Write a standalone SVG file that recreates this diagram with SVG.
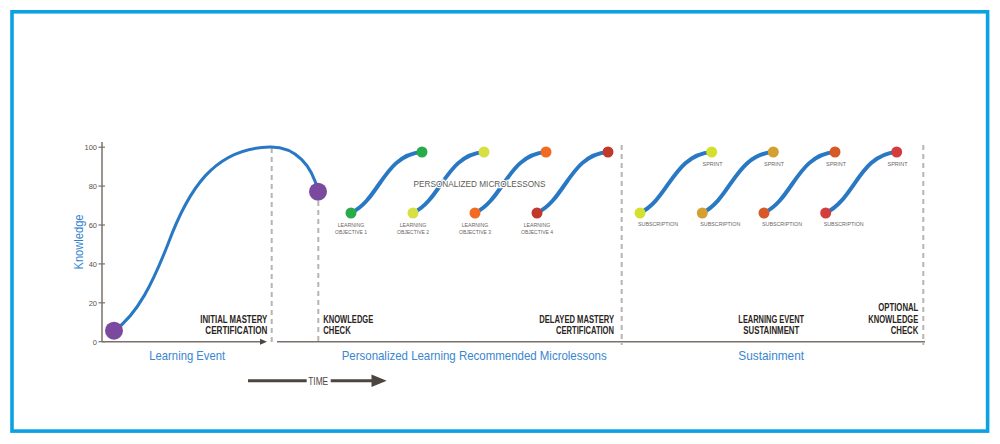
<svg xmlns="http://www.w3.org/2000/svg" width="1000" height="444" viewBox="0 0 1000 444">
<defs>
<style>
.t{font-family:"Liberation Sans Narrow","Liberation Sans",Arial,sans-serif}
.tick{font-size:7.5px;fill:#5c534d;text-anchor:end}
.b{font-size:10px;font-weight:bold;fill:#2a2522}
.sec{font-size:13px;fill:#3a86d0}
.sm{font-size:6px;fill:#6a6460}
.dash{stroke:#b8b4b0;stroke-width:2;stroke-dasharray:5 4;fill:none}
.ax{stroke:#7a706a;stroke-width:1.5;fill:none}
.lc{stroke:#2878c4;stroke-width:4;fill:none;stroke-linecap:round}
</style>
</defs>
<rect x="0" y="0" width="1000" height="444" fill="#ffffff"/>
<rect id="frame" x="12" y="11.8" width="975.6" height="419.3" fill="none" stroke="#0aa2e2" stroke-width="3.6"/>

<g id="axes">
<line class="ax" x1="102" y1="142" x2="102" y2="342"/>
<g stroke="#7a706a" stroke-width="1.2">
<line x1="98.5" y1="147.2" x2="105" y2="147.2"/>
<line x1="98.5" y1="186.1" x2="105" y2="186.1"/>
<line x1="98.5" y1="225" x2="105" y2="225"/>
<line x1="98.5" y1="263.9" x2="105" y2="263.9"/>
<line x1="98.5" y1="302.8" x2="105" y2="302.8"/>
<line x1="98.5" y1="341.7" x2="105" y2="341.7"/>
</g>
<g class="t tick">
<text x="97" y="150">100</text>
<text x="97" y="189">80</text>
<text x="97" y="228">60</text>
<text x="97" y="267">40</text>
<text x="97" y="306">20</text>
<text x="97" y="344.5">0</text>
</g>
<text class="t" x="0" y="0" transform="translate(83,242) rotate(-90)" text-anchor="middle" font-size="12" fill="#2f7fd0" textLength="55" lengthAdjust="spacingAndGlyphs">Knowledge</text>
<line class="ax" x1="102" y1="341.7" x2="262" y2="341.7"/>
<path d="M260,338.7 L267,341.7 L260,344.7 z" fill="#4d4540"/>
<line class="ax" x1="277" y1="341.7" x2="925" y2="341.7"/>
</g>

<g id="dividers">
<line class="dash" x1="271.7" y1="148" x2="271.7" y2="345"/>
<line class="dash" x1="318.3" y1="201" x2="318.3" y2="345"/>
<line class="dash" x1="621.7" y1="145" x2="621.7" y2="345"/>
<line class="dash" x1="923.3" y1="145" x2="923.3" y2="345"/>
</g>

<g id="connectors">
<path d="M114,331 C138,314 153,282 168,244 C188,190 214,148 270,147 C296,146.5 312,166 318,191" fill="none" stroke="#2878c4" stroke-width="3"/>
<path class="lc" d="M351,213 C380,199 384,155 422,152"/>
<path class="lc" d="M413,213 C442,199 446,155 484,152"/>
<path class="lc" d="M475,213 C504,199 508,155 546,152"/>
<path class="lc" d="M537,213 C566,199 570,155 608,152"/>
<path class="lc" d="M640,213 C669,199 673,155 711.7,152"/>
<path class="lc" d="M702.3,213 C731,199 735,155 773.3,152"/>
<path class="lc" d="M764,213 C793,199 797,155 835,152"/>
<path class="lc" d="M825.7,213 C855,199 859,155 896.7,152"/>
</g>

<g id="node-start"><circle cx="114" cy="330.7" r="9" fill="#7b4a9e"/></g>
<g id="node-knowledge-check"><circle cx="318" cy="191.7" r="9" fill="#7b4a9e"/></g>

<g id="node-objective-1">
<circle cx="351" cy="213" r="5.5" fill="#2aab4a"/>
<circle cx="422" cy="152" r="5.5" fill="#2aab4a"/>
<text class="t sm" x="351" y="227" text-anchor="middle" textLength="26.6" lengthAdjust="spacingAndGlyphs">LEARNING</text>
<text class="t sm" x="351" y="234.3" text-anchor="middle" textLength="32" lengthAdjust="spacingAndGlyphs">OBJECTIVE 1</text>
</g>
<g id="node-objective-2">
<circle cx="413" cy="213" r="5.5" fill="#d6e040"/>
<circle cx="484" cy="152" r="5.5" fill="#d6e040"/>
<text class="t sm" x="413" y="227" text-anchor="middle" textLength="26.6" lengthAdjust="spacingAndGlyphs">LEARNING</text>
<text class="t sm" x="413" y="234.3" text-anchor="middle" textLength="32" lengthAdjust="spacingAndGlyphs">OBJECTIVE 2</text>
</g>
<g id="node-objective-3">
<circle cx="475" cy="213" r="5.5" fill="#f26b22"/>
<circle cx="546" cy="152" r="5.5" fill="#f26b22"/>
<text class="t sm" x="475" y="227" text-anchor="middle" textLength="26.6" lengthAdjust="spacingAndGlyphs">LEARNING</text>
<text class="t sm" x="475" y="234.3" text-anchor="middle" textLength="32" lengthAdjust="spacingAndGlyphs">OBJECTIVE 3</text>
</g>
<g id="node-objective-4">
<circle cx="537" cy="213" r="5.5" fill="#c0392b"/>
<circle cx="608" cy="152" r="5.5" fill="#c0392b"/>
<text class="t sm" x="537" y="227" text-anchor="middle" textLength="26.6" lengthAdjust="spacingAndGlyphs">LEARNING</text>
<text class="t sm" x="537" y="234.3" text-anchor="middle" textLength="32" lengthAdjust="spacingAndGlyphs">OBJECTIVE 4</text>
</g>
<text class="t" x="479.5" y="186.7" text-anchor="middle" font-size="9.5" fill="#5e5a56" stroke="#ffffff" stroke-width="2.5" paint-order="stroke" textLength="132" lengthAdjust="spacingAndGlyphs">PERSONALIZED MICROLESSONS</text>

<g id="node-sprint-1">
<circle cx="640" cy="213" r="5.5" fill="#d4e02c"/>
<circle cx="711.7" cy="152" r="5.5" fill="#d4e02c"/>
<text class="t sm" x="638" y="226" textLength="40" lengthAdjust="spacingAndGlyphs">SUBSCRIPTION</text>
<text class="t sm" x="712.5" y="165.7" text-anchor="middle" textLength="20" lengthAdjust="spacingAndGlyphs">SPRINT</text>
</g>
<g id="node-sprint-2">
<circle cx="702.3" cy="213" r="5.5" fill="#d4a032"/>
<circle cx="773.3" cy="152" r="5.5" fill="#d4a032"/>
<text class="t sm" x="700.3" y="226" textLength="40" lengthAdjust="spacingAndGlyphs">SUBSCRIPTION</text>
<text class="t sm" x="774" y="165.7" text-anchor="middle" textLength="20" lengthAdjust="spacingAndGlyphs">SPRINT</text>
</g>
<g id="node-sprint-3">
<circle cx="764" cy="213" r="5.5" fill="#d65a28"/>
<circle cx="835" cy="152" r="5.5" fill="#d65a28"/>
<text class="t sm" x="762" y="226" textLength="40" lengthAdjust="spacingAndGlyphs">SUBSCRIPTION</text>
<text class="t sm" x="836" y="165.7" text-anchor="middle" textLength="20" lengthAdjust="spacingAndGlyphs">SPRINT</text>
</g>
<g id="node-sprint-4">
<circle cx="825.7" cy="213" r="5.5" fill="#d43d3d"/>
<circle cx="896.7" cy="152" r="5.5" fill="#d43d3d"/>
<text class="t sm" x="823.7" y="226" textLength="40" lengthAdjust="spacingAndGlyphs">SUBSCRIPTION</text>
<text class="t sm" x="897.5" y="165.7" text-anchor="middle" textLength="20" lengthAdjust="spacingAndGlyphs">SPRINT</text>
</g>

<g id="milestones" class="t b">
<text x="267.3" y="322.7" text-anchor="end" textLength="67" lengthAdjust="spacingAndGlyphs">INITIAL MASTERY</text>
<text x="267.3" y="334.3" text-anchor="end" textLength="62" lengthAdjust="spacingAndGlyphs">CERTIFICATION</text>
<text x="323.3" y="322.7" textLength="50" lengthAdjust="spacingAndGlyphs">KNOWLEDGE</text>
<text x="323.3" y="334.3" textLength="27.4" lengthAdjust="spacingAndGlyphs">CHECK</text>
<text x="614" y="322.7" text-anchor="end" textLength="74.7" lengthAdjust="spacingAndGlyphs">DELAYED MASTERY</text>
<text x="614" y="334.3" text-anchor="end" textLength="58" lengthAdjust="spacingAndGlyphs">CERTIFICATION</text>
<text x="771.2" y="322.7" text-anchor="middle" textLength="65.7" lengthAdjust="spacingAndGlyphs">LEARNING EVENT</text>
<text x="771.3" y="334.3" text-anchor="middle" textLength="56" lengthAdjust="spacingAndGlyphs">SUSTAINMENT</text>
<text x="918.3" y="310.5" text-anchor="end" textLength="40" lengthAdjust="spacingAndGlyphs">OPTIONAL</text>
<text x="918.3" y="322.7" text-anchor="end" textLength="50" lengthAdjust="spacingAndGlyphs">KNOWLEDGE</text>
<text x="918.3" y="334.3" text-anchor="end" textLength="27.6" lengthAdjust="spacingAndGlyphs">CHECK</text>
</g>

<g id="sections" class="t sec">
<text x="187.2" y="360" text-anchor="middle" textLength="75.7" lengthAdjust="spacingAndGlyphs">Learning Event</text>
<text x="474.2" y="360" text-anchor="middle" textLength="265" lengthAdjust="spacingAndGlyphs">Personalized Learning Recommended Microlessons</text>
<text x="771.2" y="360" text-anchor="middle" textLength="65.7" lengthAdjust="spacingAndGlyphs">Sustainment</text>
</g>

<g id="time">
<line x1="248" y1="380.7" x2="306.7" y2="380.7" stroke="#4d4540" stroke-width="3"/>
<text class="t" x="318.2" y="384.5" text-anchor="middle" font-size="10" fill="#4d4540" textLength="20" lengthAdjust="spacingAndGlyphs">TIME</text>
<line x1="330.7" y1="380.7" x2="373" y2="380.7" stroke="#4d4540" stroke-width="3"/>
<path d="M371.5,374.5 L386.7,380.7 L371.5,386.9 z" fill="#4d4540"/>
</g>
</svg>
